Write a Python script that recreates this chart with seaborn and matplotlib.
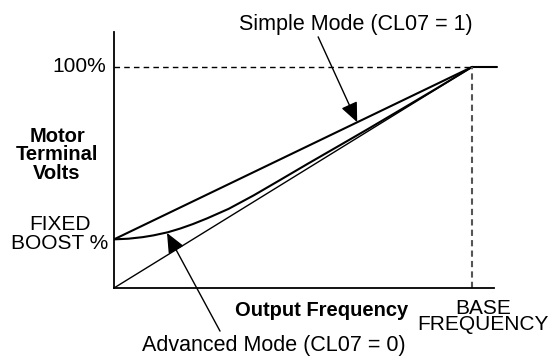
import matplotlib
matplotlib.use("Agg")
import matplotlib.pyplot as plt
import seaborn as sns

# Output frequency as % of base frequency, terminal volts as % of rated
base_freq = 100
full_volts = 100
fixed_boost = 22

simple_freq = [0, 100]
simple_volts = [22, 100]

linear_freq = [0, 100]
linear_volts = [0, 100]

advanced_freq = [0, 4, 8, 11, 15, 18.5, 22, 26, 32, 39, 46, 54, 63, 71, 80, 90, 100]
advanced_volts = [22.0, 22.3, 23.0, 23.8, 25.2, 26.9, 28.9, 31.5, 35.8, 41.9, 48.5,
                  56.1, 64.5, 72.0, 80.6, 90.2, 100]

flat_freq = [100, 107]
flat_volts = [100, 100]

sns.set_theme(style="white")
plt.rcParams["font.family"] = ["Liberation Sans", "DejaVu Sans"]

fig = plt.figure(figsize=(5.5, 3.56), dpi=100)
ax = fig.add_axes([114 / 550, 1 - 288 / 356, 380 / 550, 256 / 356])

ink = "black"
common = dict(ax=ax, estimator=None, sort=False)
sns.lineplot(x=simple_freq, y=simple_volts, color=ink, lw=1.5, **common)
sns.lineplot(x=linear_freq, y=linear_volts, color=ink, lw=1.0, **common)
sns.lineplot(x=advanced_freq, y=advanced_volts, color=ink, lw=1.5, **common)
sns.lineplot(x=flat_freq, y=flat_volts, color=ink, lw=1.5, **common)
ax.lines[-1].set_clip_on(False)

# reference guides at 100 % volts and base frequency
sns.lineplot(x=[0, base_freq], y=[full_volts, full_volts], color=ink,
             lw=1.0, linestyle=(0, (4, 3)), **common)
sns.lineplot(x=[base_freq, base_freq], y=[0, full_volts], color="#555555",
             lw=1.5, linestyle=(0, (3, 2)), **common)

ax.set_xlim(0, 106.1)
ax.set_ylim(0, 115.8)
ax.set_xticks([])
ax.set_yticks([])
ax.set_xlabel("")
ax.set_ylabel("")
for side in ("top", "right"):
    ax.spines[side].set_visible(False)
for side in ("left", "bottom"):
    ax.spines[side].set_color(ink)
    ax.spines[side].set_linewidth(1.3)

fs = 15
txt = dict(color=ink, clip_on=False)
ax.text(-2.2, full_volts, "100%", ha="right", va="center", fontsize=fs, **txt)
ax.text(-15.9, 60.2, "Motor\nTerminal\nVolts", ha="center", va="center",
        fontsize=fs - 0.5, fontweight="bold", linespacing=0.95, **txt)
ax.text(-15.1, 24.4, "FIXED\nBOOST %", ha="center", va="center",
        fontsize=fs, linespacing=0.95, **txt)
ax.text(58.1, -10, "Output Frequency", ha="center", va="center",
        fontsize=fs - 0.5, fontweight="bold", **txt)
ax.text(103, -12.7, "BASE\nFREQUENCY", ha="center", va="center",
        fontsize=fs, linespacing=0.8, **txt)
ax.text(67.6, 119.0, "Simple Mode (CL07 = 1)", ha="center", va="center",
        fontsize=fs + 0.5, **txt)
ax.text(44.7, -26.2, "Advanced Mode (CL07 = 0)", ha="center", va="center",
        fontsize=fs + 0.5, **txt)

arrow = dict(arrowstyle="-|>,head_length=0.8,head_width=0.35", color=ink, lw=1.0,
             shrinkA=0, shrinkB=0, mutation_scale=15)
ax.annotate("", xy=(67.9, 75.0), xytext=(57.0, 113.6), arrowprops=arrow,
            annotation_clip=False)
ax.annotate("", xy=(14.8, 24.9), xytext=(29.6, -19.5), arrowprops=arrow,
            annotation_clip=False)

fig.savefig("out.png", dpi=100)
